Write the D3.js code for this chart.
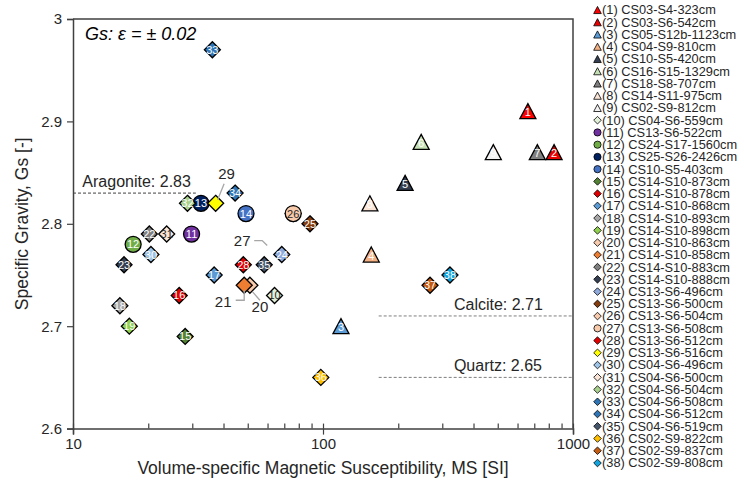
<!DOCTYPE html>
<html>
<head>
<meta charset="utf-8">
<script src="https://cdn.jsdelivr.net/npm/d3@7"></script>
<style>
  body { margin: 0; background: #fff; }
  svg { display: block; }
  text { font-family: "Liberation Sans", Arial, sans-serif; }
</style>
</head>
<body>
<svg id="chart" width="744" height="489"></svg>
<script>
// ---- data ----
const sampleIds = d3.range(1, 39);
const sampleNames = [
  "CS03-S4-323cm", "CS03-S6-542cm", "CS05-S12b-1123cm", "CS04-S9-810cm", "CS10-S5-420cm",
  "CS16-S15-1329cm", "CS18-S8-707cm", "CS14-S11-975cm", "CS02-S9-812cm", "CS04-S6-559cm",
  "CS13-S6-522cm", "CS24-S17-1560cm", "CS25-S26-2426cm", "CS10-S5-403cm", "CS14-S10-873cm",
  "CS14-S10-878cm", "CS14-S10-868cm", "CS14-S10-893cm", "CS14-S10-898cm", "CS14-S10-863cm",
  "CS14-S10-858cm", "CS14-S10-883cm", "CS14-S10-888cm", "CS13-S6-496cm", "CS13-S6-500cm",
  "CS13-S6-504cm", "CS13-S6-508cm", "CS13-S6-512cm", "CS13-S6-516cm", "CS04-S6-496cm",
  "CS04-S6-500cm", "CS04-S6-504cm", "CS04-S6-508cm", "CS04-S6-512cm", "CS04-S6-519cm",
  "CS02-S9-822cm", "CS02-S9-837cm", "CS02-S9-808cm"
];
// volume-specific magnetic susceptibility [SI]
const msValues = [
  660, 840, 118, 156, 213, 247, 720, 154, 480, 64,
  29.8, 17.4, 32.5, 49.2, 28.1, 26.6, 36.7, 15.4, 16.8, 51,
  48.4, 20.2, 16.0, 68.4, 88.7, 76, 76, 48.0, 37.2, 20.5,
  23.7, 28.7, 36.1, 44.5, 58.2, 98, 268, 322
];
// specific gravity Gs [-]
const gsValues = [
  2.91, 2.87, 2.70, 2.77, 2.84, 2.88, 2.87, 2.82, 2.87, 2.73,
  2.79, 2.78, 2.82, 2.81, 2.69, 2.73, 2.75, 2.72, 2.70, 2.74,
  2.74, 2.79, 2.76, 2.77, 2.80, 2.81, 2.81, 2.76, 2.82, 2.77,
  2.79, 2.82, 2.97, 2.83, 2.76, 2.65, 2.74, 2.75
];
const markerShapes = [
  "triangle", "triangle", "triangle", "triangle", "triangle", "triangle", "triangle", "triangle", "triangle",
  "diamond", "circle", "circle", "circle", "circle",
  "diamond", "diamond", "diamond", "diamond", "diamond", "diamond", "diamond", "diamond", "diamond",
  "diamond", "diamond", "diamond", "circle", "diamond", "diamond", "diamond", "diamond", "diamond",
  "diamond", "diamond", "diamond", "diamond", "diamond", "diamond"
];
const markerColors = [
  "#ff0000", "#e80000", "#5b9bd5", "#f4b183", "#333f50", "#c5e0b4", "#7f7f7f", "#fbe5d6", "#f2f2f2",
  "#e2f0d9", "#7030a0", "#70ad47", "#002060", "#4472c4",
  "#548235", "#e00000", "#5b9bd5", "#a6a6a6", "#92d050", "#f8cbad", "#ed7d31", "#7f7f7f", "#333f50",
  "#8faadc", "#843c0c", "#f8cbad", "#f8cbad", "#e00000", "#ffff00", "#9dc3e6", "#fbe5d6", "#a9d18e",
  "#2e75b6", "#2e75b6", "#44546a", "#ffc000", "#c55a11", "#10a4de"
];
const xMajorTicks = [10, 100, 1000];
const xMinorTicks = [20, 30, 40, 50, 60, 70, 80, 90, 200, 300, 400, 500, 600, 700, 800, 900];
const yTicks = [2.6, 2.7, 2.8, 2.9, 3.0];
const yTickLabels = ["2.6", "2.7", "2.8", "2.9", "3"];
const mineralNames = ["Aragonite", "Calcite", "Quartz"];
const mineralGs = [2.83, 2.71, 2.65];

// ---- layout ----
const plot = { left: 73, right: 573, top: 19, bottom: 428.6 };
const refLineSpan = [[10, 31], [167, 1000], [167, 1000]];   // MS extent of each dashed line
const refTextMs = [10.9, 334, 334];
const darkLabelIds = [10, 26, 27, 31];

const svg = d3.select("#chart");
const x = d3.scaleLog().domain([10, 1000]).range([plot.left, plot.right]);
const y = d3.scaleLinear().domain([2.6, 3.0]).range([plot.bottom, plot.top]);

function shapePath(shape, s) {
  if (shape === "triangle") {
    return `M0,${-0.94 * s}L${s},${0.94 * s}L${-s},${0.94 * s}Z`;
  }
  if (shape === "diamond") {
    return `M0,${-s}L${s},0L0,${s}L${-s},0Z`;
  }
  const p = d3.path();
  p.arc(0, 0, s, 0, 2 * Math.PI);
  p.closePath();
  return p.toString();
}

const axisColor = "#404040";
const textColor = "#262626";

// frame (top and right borders)
svg.append("path")
  .attr("d", `M${plot.left},${plot.top}H${plot.right}V${plot.bottom}`)
  .attr("fill", "none").attr("stroke", axisColor).attr("stroke-width", 1.5);

// x axis: major ticks crossing, minor ticks inside
const xAxisG = svg.append("g").attr("transform", `translate(0,${plot.bottom})`);
xAxisG.call(d3.axisBottom(x).tickValues(xMajorTicks).tickFormat(d3.format("d")).tickSize(6).tickPadding(4));
xAxisG.append("g").call(d3.axisTop(x).tickValues(xMajorTicks).tickFormat("").tickSize(5))
  .select(".domain").remove();
xAxisG.append("g").call(d3.axisTop(x).tickValues(xMinorTicks).tickFormat("").tickSize(5))
  .select(".domain").remove();
xAxisG.selectAll(".domain").attr("stroke", axisColor).attr("stroke-width", 1.5);
xAxisG.selectAll(".tick line").attr("stroke", axisColor).attr("stroke-width", 1.2);
xAxisG.selectAll(".tick text").attr("font-size", 15).attr("fill", textColor)
  .attr("font-family", "Liberation Sans, Arial, sans-serif");

// y axis
const yAxisG = svg.append("g").attr("transform", `translate(${plot.left},0)`);
yAxisG.call(d3.axisLeft(y).tickValues(yTicks).tickFormat((d, i) => yTickLabels[i]).tickSize(6).tickPadding(5));
yAxisG.select(".domain").attr("stroke", axisColor).attr("stroke-width", 1.5);
yAxisG.selectAll(".tick line").attr("stroke", axisColor).attr("stroke-width", 1.2);
yAxisG.selectAll(".tick text").attr("font-size", 15).attr("fill", textColor)
  .attr("font-family", "Liberation Sans, Arial, sans-serif");

// axis titles
svg.append("text")
  .attr("x", (plot.left + plot.right) / 2).attr("y", 474)
  .attr("text-anchor", "middle").attr("font-size", 17.5).attr("fill", textColor)
  .text("Volume-specific Magnetic Susceptibility, MS [SI]");
svg.append("text")
  .attr("transform", `translate(28,${(plot.top + plot.bottom) / 2}) rotate(-90)`)
  .attr("text-anchor", "middle").attr("font-size", 17.5).attr("fill", textColor)
  .text("Specific Gravity, Gs [-]");

// measurement uncertainty note
svg.append("text")
  .attr("x", 85).attr("y", 40)
  .attr("font-size", 18).attr("font-style", "italic").attr("fill", "#000")
  .text("Gs: ε = ± 0.02");

// mineral reference lines
mineralNames.forEach((name, i) => {
  const gy = y(mineralGs[i]);
  svg.append("line")
    .attr("x1", x(refLineSpan[i][0])).attr("x2", x(refLineSpan[i][1]))
    .attr("y1", gy).attr("y2", gy)
    .attr("stroke", i === 0 ? "#404040" : "#7f7f7f").attr("stroke-width", 1)
    .attr("stroke-dasharray", "3,2");
  svg.append("text")
    .attr("x", x(refTextMs[i])).attr("y", gy - 6)
    .attr("font-size", 16).attr("fill", textColor)
    .text(`${name}: ${mineralGs[i].toFixed(2)}`);
});

// points
const points = sampleIds.map((id, i) => ({
  id, ms: msValues[i], gs: gsValues[i], shape: markerShapes[i], color: markerColors[i]
}));

const markG = svg.append("g");
markG.selectAll("path").data(points).join("path")
  .attr("transform", d => `translate(${x(d.ms)},${y(d.gs)})`)
  .attr("d", d => shapePath(d.shape, 8))
  .attr("fill", d => d.color)
  .attr("stroke", "#000").attr("stroke-width", 1.3);

// callouts for crowded points: [id, text dx, text dy, leader polyline offsets]
const callouts = [
  [29, 11, -24, [[2, -3.5], [8.5, -19.5]]],
  [21, -21, 22, [[0, 5], [0, 15], [-8.5, 15]]],
  [20, 10, 27, [[2.7, 6.7], [10, 15]]],
  [27, -51, 32, [[-39, 27], [-31, 27], [-26, 32]]]
];
const calloutIds = callouts.map(c => c[0]);

// in-marker labels sit above all markers; crowded points get callouts instead
const labelG = svg.append("g");
labelG.selectAll("text").data(points.filter(d => !calloutIds.includes(d.id))).join("text")
  .attr("x", d => x(d.ms))
  .attr("y", d => y(d.gs) + (d.shape === "triangle" ? 5 : 4))
  .attr("text-anchor", "middle").attr("font-size", 11)
  .attr("fill", d => darkLabelIds.includes(d.id) ? "#262626" : "#fff")
  .text(d => d.id);

callouts.forEach(([id, tdx, tdy, pts]) => {
  const p = points[id - 1];
  const px = x(p.ms), py = y(p.gs);
  svg.append("path")
    .attr("d", d3.line()(pts.map(([dx, dy]) => [px + dx, py + dy])))
    .attr("fill", "none").attr("stroke", "#a6a6a6").attr("stroke-width", 1.3);
  svg.append("text")
    .attr("x", px + tdx).attr("y", py + tdy)
    .attr("text-anchor", "middle").attr("font-size", 15).attr("fill", textColor)
    .text(id);
});

// legend
const legendG = svg.append("g");
const rowY = d3.scaleLinear().domain([1, 38]).range([10, 463]);
const rows = legendG.selectAll("g").data(points).join("g")
  .attr("transform", d => `translate(597.5,${rowY(d.id)})`);
rows.append("path")
  .attr("d", d => shapePath(d.shape, d.shape === "circle" ? 3.6 : 3.8))
  .attr("fill", d => d.color).attr("stroke", "#000").attr("stroke-width", 0.8);
rows.append("text")
  .attr("x", 4.5).attr("y", 4.4)
  .attr("font-size", 12.8).attr("fill", textColor)
  .text(d => `(${d.id}) ${sampleNames[d.id - 1]}`);
</script>
</body>
</html>
